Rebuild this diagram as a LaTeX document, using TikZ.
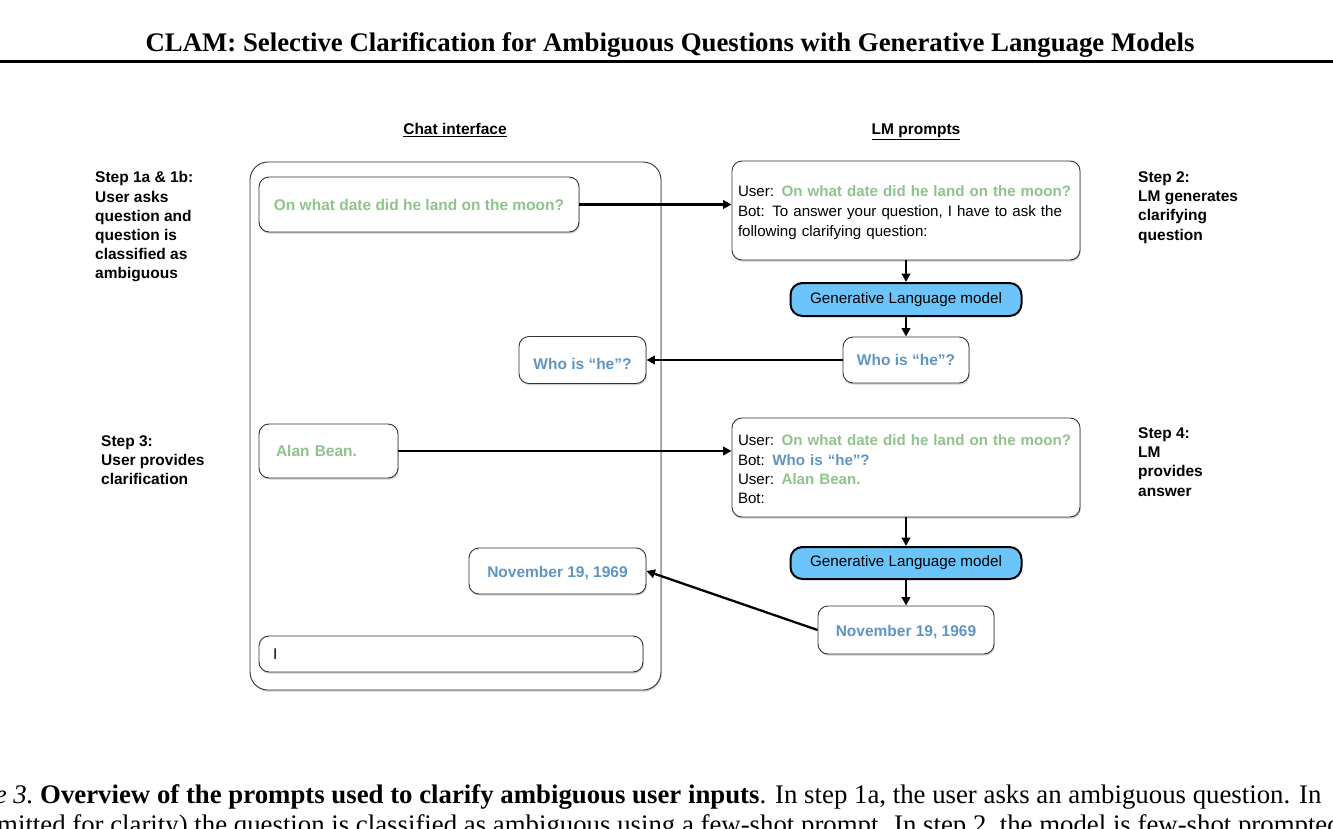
\documentclass[tikz,border=0pt]{standalone}
\usepackage{fontspec}
\setmainfont{Liberation Serif}
\setsansfont{Liberation Sans}
\usetikzlibrary{arrows.meta,shadows}
\definecolor{qgreen}{HTML}{8FC38C}
\definecolor{qblue}{HTML}{5F95C2}
\definecolor{glmblue}{HTML}{6CC5FA}
\definecolor{edgegray}{HTML}{333333}
\begin{document}
\begin{tikzpicture}[x=1pt,y=-1pt,
  sf/.style={font=\sffamily\fontsize{15.5}{19.5}\selectfont},
  box/.style={sf, draw=edgegray, line width=0.9pt, rounded corners=10pt, fill=white,
    drop shadow={shadow xshift=0.8pt, shadow yshift=-1.6pt, opacity=0.35, fill=black!55},
    inner sep=0pt, text=black},
  bigbox/.style={box, rounded corners=18pt},
  glm/.style={font=\sffamily\fontsize{15.2}{19}\selectfont, draw=black, line width=2pt, rounded corners=12pt, fill=glmblue, inner sep=0pt},
  prompt/.style={box, align=left, text width=336pt, inner xsep=6pt},
  steplabel/.style={font=\sffamily\bfseries\fontsize{15.5}{19.2}\selectfont, align=left, anchor=north west, inner sep=0pt},
  header/.style={font=\sffamily\bfseries\fontsize{15.5}{17}\selectfont, inner sep=0pt, anchor=base},
  conn/.style={line width=2.3pt, -{Triangle[length=8.5pt,width=8.5pt]}},
  gq/.style={text=qgreen, font=\sffamily\bfseries\fontsize{15.5}{19.5}\selectfont},
  bq/.style={text=qblue, font=\sffamily\bfseries\fontsize{15.5}{19.5}\selectfont}
]
\useasboundingbox[fill=white] (0,0) rectangle (1333,829);

% page header
\node[anchor=base, inner sep=0pt, font=\bfseries\fontsize{26.8}{30}\selectfont] (title) at (670,52)
  {CLAM: Selective Clarification for Ambiguous Questions with Generative Language Models};
\coordinate (rl) at (0,61.5);
\coordinate (rr) at (1333,61.5);
\draw[line width=2.5pt] (rl) -- (rr);

% column headers
\node[header] (hchat) at (455,135) {\underline{Chat interface}};
\node[header] (hlm) at (916,135) {\underline{LM prompts}};

% chat interface
\node[bigbox, minimum width=411pt, minimum height=528pt] (chat) at (455.5,426) {};
\node[box, gq, minimum width=320pt, minimum height=55pt, text height=13pt, text depth=0pt] (q1) at (419,204.5)
  {On what date did he land on the moon?};
\node[box, bq, minimum width=127pt, minimum height=47pt, text height=19pt, text depth=0pt] (wl) at (582.5,360) {Who is “he”?};
\node[box, gq, minimum width=139pt, minimum height=54pt, align=left, text width=105pt, inner xsep=17pt] (alan) at (328.5,451) {Alan Bean.};
\node[box, bq, minimum width=177pt, minimum height=46pt, text height=13pt, text depth=0pt] (nl) at (557.5,571) {November 19, 1969};
\node[box, minimum width=384pt, minimum height=36pt, align=left, text width=356pt, inner xsep=14pt] (inp) at (451,654) {I};

% LM prompts
\node[prompt, minimum height=99pt, font=\sffamily\fontsize{15.1}{20}\selectfont] (p1) at (906,210.5)
  {\rule{0pt}{16pt}User: \textcolor{qgreen}{\bfseries On what date did he land on the moon?}\\
   Bot: To answer your question, I have to ask the\\
   following clarifying question:};
\node[glm, minimum width=231pt, minimum height=33pt] (glm1) at (906,299.5) {Generative Language model};
\node[box, bq, minimum width=126pt, minimum height=46pt] (wr) at (906,360) {Who is “he”?};
\node[prompt, minimum height=99pt, font=\sffamily\fontsize{15.1}{19.3}\selectfont] (p2) at (906,467.5)
  {\rule{0pt}{15pt}User: \textcolor{qgreen}{\bfseries On what date did he land on the moon?}\\
   Bot: \textcolor{qblue}{\bfseries Who is “he”?}\\
   User: \textcolor{qgreen}{\bfseries Alan Bean.}\\
   Bot:};
\node[glm, minimum width=231pt, minimum height=32pt] (glm2) at (906,563) {Generative Language model};
\node[box, bq, minimum width=176pt, minimum height=48pt, text height=13pt, text depth=0pt] (nr) at (906,630) {November 19, 1969};

% step labels
\node[steplabel] (s1) at (95,171.5) {Step 1a \& 1b:\\User asks\\question and\\question is\\classified as\\ambiguous};
\node[steplabel] (s2) at (1138,171.5) {Step 2:\\LM generates\\clarifying\\question};
\node[steplabel] (s3) at (101,435.5) {Step 3:\\User provides\\clarification};
\node[steplabel] (s4) at (1138,427.5) {Step 4:\\LM\\provides\\answer};

% connectors
\draw[conn] (q1.east) -- (q1.east -| p1.west);
\draw[conn] (p1.south) -- (glm1.north);
\draw[conn] (glm1.south) -- (wr.north);
\draw[conn] (wr.west) -- (wl.east);
\draw[conn] (alan.east) -- (alan.east -| p2.west);
\draw[conn] (p2.south) -- (glm2.north);
\draw[conn] (glm2.south) -- (nr.north);
\draw[conn] (nr.west) -- (nl.east);

% caption (cut by the page edges)
\begin{scope}
\clip (0,0) rectangle (1333,829);
\node[anchor=base west, inner sep=0pt, font=\fontsize{26.8}{30}\selectfont] (cap1) at (40,803)
  {\llap{\textit{Figure 3.}\ }\textbf{Overview of the prompts used to clarify ambiguous user inputs}. In step 1a, the user asks an ambiguous question. In};
\node[anchor=base west, inner sep=0pt, font=\fontsize{26.8}{30}\selectfont] (cap2) at (-3,833)
  {\llap{(o}mitted for clarity) the question is classified as ambiguous using a few-shot prompt. In step 2, the model is few-shot prompted};
\end{scope}
\end{tikzpicture}
\end{document}
